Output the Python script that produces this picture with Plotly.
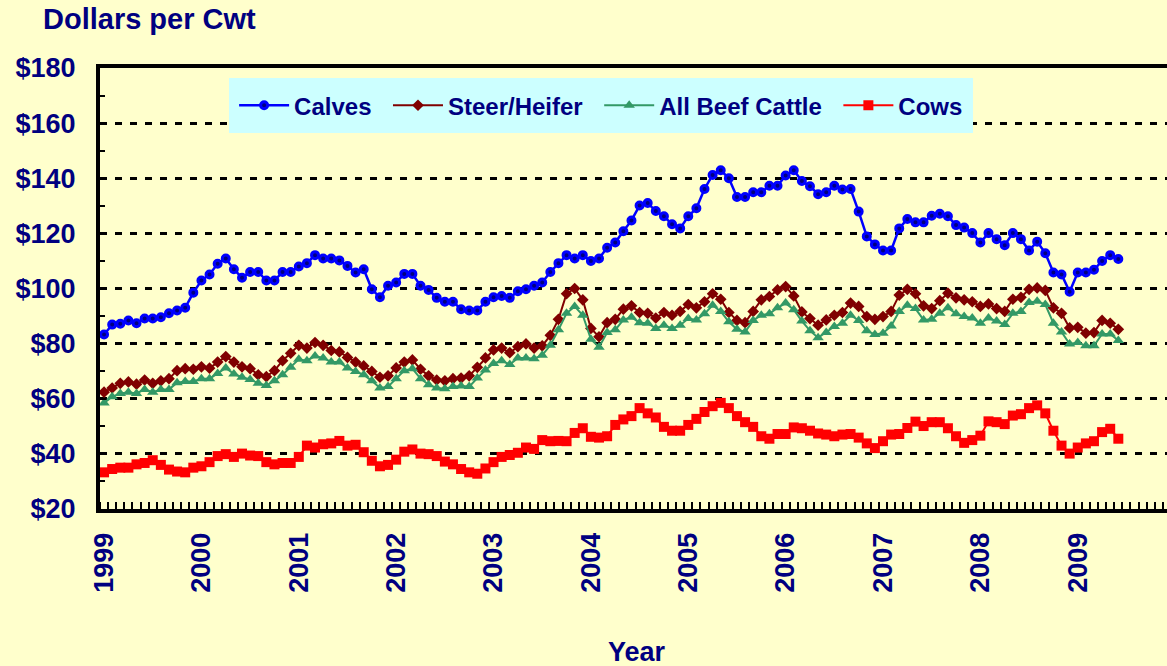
import pandas as pd
import plotly.graph_objects as go

# monthly prices, Jan 1999 .. Jun 2009 (dollars per cwt)
start_month = "1999-01"
years = [str(y) for y in range(1999, 2010)]

calves = [
    83.3, 86.9, 87.2, 88.4, 87.4, 89.1, 89.1, 89.6, 91.0, 92.0, 93.0, 98.5,
    102.9, 105.1, 109.0, 110.9, 107.0, 103.9, 106.0, 106.0, 102.9, 102.9, 106.0, 106.0,
    108.0, 109.2, 112.1, 110.9, 110.9, 110.2, 108.2, 105.8, 107.0, 99.7, 96.8, 101.0,
    102.2, 105.3, 105.3, 101.0, 99.5, 96.6, 95.2, 95.2, 92.5, 92.0, 92.0, 95.2,
    96.8, 97.3, 96.6, 99.0, 99.7, 101.0, 102.2, 106.0, 109.2, 112.1, 110.9, 112.1,
    110.0, 110.9, 114.8, 116.7, 120.8, 124.7, 130.1, 131.0, 128.1, 126.2, 123.3, 121.8,
    126.2, 129.1, 136.1, 141.2, 142.9, 140.0, 133.2, 133.2, 134.9, 134.9, 137.3, 137.3,
    141.0, 142.9, 139.0, 137.1, 134.2, 134.9, 137.3, 135.9, 136.1, 127.9, 118.9, 116.0,
    113.8, 113.8, 121.8, 125.2, 124.0, 124.0, 126.4, 127.1, 126.2, 123.0, 122.1, 120.1,
    116.7, 120.1, 117.9, 115.7, 120.1, 117.9, 113.8, 117.0, 112.8, 105.8, 105.1, 98.8,
    105.8, 105.8, 106.8, 110.0, 112.1, 110.7,
]

steer_heifer = [
    62.4, 63.9, 65.6, 66.1, 65.3, 66.8, 65.6, 66.5, 67.3, 70.2, 70.9, 70.7,
    71.6, 71.1, 73.3, 75.3, 73.3, 71.6, 70.9, 68.7, 68.0, 70.2, 73.8, 76.5,
    79.4, 78.4, 80.4, 79.4, 77.5, 77.0, 75.0, 73.3, 71.9, 69.9, 67.8, 68.3,
    71.2, 73.3, 74.1, 70.7, 68.3, 66.8, 66.5, 67.3, 67.5, 68.3, 71.4, 74.8,
    77.7, 78.4, 76.7, 78.9, 79.9, 78.4, 79.2, 83.0, 88.8, 98.1, 100.0, 95.9,
    85.5, 82.5, 87.6, 88.8, 92.5, 93.7, 91.3, 91.0, 89.3, 91.3, 90.3, 91.7,
    94.2, 93.0, 95.2, 98.1, 96.1, 91.3, 88.4, 87.6, 91.7, 95.9, 97.1, 99.5,
    100.7, 97.3, 91.5, 89.1, 86.7, 88.6, 90.3, 91.3, 94.7, 93.5, 89.8, 88.8,
    89.8, 91.7, 97.6, 99.7, 98.1, 93.7, 92.7, 95.6, 98.3, 96.6, 95.9, 95.2,
    93.5, 94.4, 92.7, 91.7, 96.1, 96.8, 99.7, 100.2, 99.3, 93.0, 91.0, 85.7,
    85.9, 83.8, 84.0, 88.4, 87.4, 85.2,
]

all_beef = [
    58.5, 60.7, 61.9, 62.4, 61.9, 63.4, 62.4, 63.4, 63.4, 65.8, 66.3, 66.3,
    67.3, 67.3, 69.2, 71.2, 69.0, 67.8, 67.0, 65.6, 64.8, 66.5, 68.7, 71.4,
    74.3, 73.8, 75.5, 74.8, 73.3, 73.3, 71.2, 69.9, 68.7, 66.5, 63.9, 64.4,
    67.3, 70.2, 70.9, 67.3, 65.1, 63.9, 63.6, 64.4, 64.6, 64.4, 67.5, 70.4,
    72.8, 73.8, 72.4, 74.8, 74.8, 74.5, 75.8, 79.4, 85.0, 91.0, 93.5, 90.3,
    81.6, 78.7, 84.0, 85.0, 88.6, 89.6, 87.6, 87.4, 85.5, 86.7, 85.5, 86.7,
    89.1, 88.6, 90.8, 93.9, 91.7, 87.9, 85.2, 84.2, 88.4, 90.3, 90.8, 93.0,
    94.7, 92.3, 88.2, 84.7, 82.1, 84.0, 86.2, 87.4, 90.3, 88.4, 84.7, 83.3,
    83.8, 86.4, 91.7, 93.9, 92.7, 88.6, 88.8, 91.0, 93.0, 90.8, 89.8, 89.3,
    87.4, 89.3, 88.2, 86.9, 91.0, 91.7, 94.9, 95.4, 94.2, 87.4, 84.2, 79.9,
    80.4, 79.2, 79.2, 83.5, 83.5, 81.1,
]

cows = [
    33.3, 34.5, 35.0, 35.0, 36.2, 36.7, 37.7, 36.0, 34.3, 33.6, 33.3, 35.0,
    35.5, 37.0, 39.2, 39.9, 38.9, 40.1, 39.4, 39.2, 37.0, 36.2, 36.7, 36.7,
    38.9, 43.0, 42.3, 43.5, 43.8, 44.7, 43.0, 43.3, 40.6, 37.5, 35.5, 36.0,
    37.9, 40.8, 41.6, 40.1, 39.9, 39.2, 37.2, 36.2, 34.5, 33.3, 32.8, 34.7,
    37.0, 38.9, 39.6, 40.4, 42.3, 41.8, 45.0, 44.6, 44.7, 44.6, 47.6, 49.3,
    46.2, 45.9, 46.4, 50.5, 52.5, 53.7, 56.6, 54.7, 53.2, 49.8, 48.4, 48.4,
    50.5, 52.7, 55.2, 57.3, 58.5, 56.6, 53.7, 51.5, 49.8, 46.4, 45.5, 47.2,
    47.2, 49.6, 49.3, 48.4, 47.4, 47.0, 46.4, 47.0, 47.2, 45.9, 43.8, 42.1,
    44.6, 47.0, 47.2, 49.4, 51.7, 50.1, 51.5, 51.5, 49.3, 46.4, 44.0, 45.0,
    46.6, 51.8, 51.5, 50.8, 53.9, 54.4, 56.6, 57.6, 54.7, 48.4, 43.0, 40.1,
    42.3, 43.8, 44.6, 47.9, 49.1, 45.5,
]

NAVY = "#000080"
BG = "#FFFFCC"
FONT = "Liberation Sans, Arial, sans-serif"
PAD = "\u00a0\u2009"  # a little room after each legend label

months = pd.date_range(start_month, periods=len(calves), freq="MS")
first_year = months[0].year
x = [(m.year - first_year) * 12 + m.month - 1 for m in months]
year_pos = [(int(y) - first_year) * 12 for y in years]

fig = go.Figure()
fig.add_trace(go.Scatter(
    x=x, y=calves, name="Calves" + PAD, mode="lines+markers",
    line=dict(color="#0000FF", width=2.5),
    marker=dict(symbol="circle", size=7, color=NAVY, line=dict(color="#0000FF", width=3)),
))
fig.add_trace(go.Scatter(
    x=x, y=steer_heifer, name="Steer/Heifer" + PAD, mode="lines+markers",
    line=dict(color="#800000", width=2),
    marker=dict(symbol="diamond", size=9, color="#800000"),
))
fig.add_trace(go.Scatter(
    x=x, y=all_beef, name="All Beef Cattle" + PAD, mode="lines+markers",
    line=dict(color="#339966", width=2),
    marker=dict(symbol="triangle-up", size=10, color="#339966"),
))
fig.add_trace(go.Scatter(
    x=x, y=cows, name="Cows", mode="lines+markers",
    line=dict(color="#FF0000", width=2),
    marker=dict(symbol="square", size=10, color="#FF0000"),
))

fig.update_layout(
    width=1167, height=666,
    margin=dict(l=100, r=0, t=68, b=157),
    paper_bgcolor=BG, plot_bgcolor=BG,
    font=dict(family=FONT, color=NAVY, size=24, weight="bold"),
    legend=dict(
        orientation="h", x=0.121, y=0.977, xanchor="left", yanchor="top",
        bgcolor="#CCFFFF", bordercolor="#CCFFFF", borderwidth=5,
        font=dict(size=24, color=NAVY, weight="bold"),
        itemwidth=50,
    ),
    annotations=[
        dict(text="Dollars per Cwt", xref="paper", yref="paper", x=-0.055, y=1.11,
             xanchor="left", yanchor="middle", showarrow=False,
             font=dict(size=29, color=NAVY, weight="bold")),
        dict(text="Year", xref="paper", yref="paper", x=0.503, y=-0.324,
             xanchor="center", yanchor="middle", showarrow=False,
             font=dict(size=27, color=NAVY, weight="bold")),
    ],
)

fig.update_xaxes(
    range=[-0.5, 131.0], tickvals=year_pos, ticktext=years, tickangle=-90,
    ticks="", ticklabelstandoff=9, tickfont=dict(size=27),
    showline=True, linecolor="black", linewidth=4, mirror=True,
    showgrid=False, zeroline=False,
    minor=dict(ticks="inside", tick0=-0.5, dtick=1, ticklen=7,
               tickcolor="black", tickwidth=2, showgrid=False),
)
fig.update_yaxes(
    range=[20, 180], tick0=20, dtick=20, tickprefix="$", tickfont=dict(size=27),
    showline=True, linecolor="black", linewidth=4,
    gridcolor="black", gridwidth=3, griddash="7px,8px",
    ticks="inside", ticklen=6, tickcolor="black", tickwidth=2,
    ticklabelstandoff=15, zeroline=False,
    minor=dict(ticks="inside", dtick=10, ticklen=5, tickcolor="black", tickwidth=2),
)

fig.write_html("out.html", config={"displayModeBar": False},
               post_script="document.body.style.margin='0';")
